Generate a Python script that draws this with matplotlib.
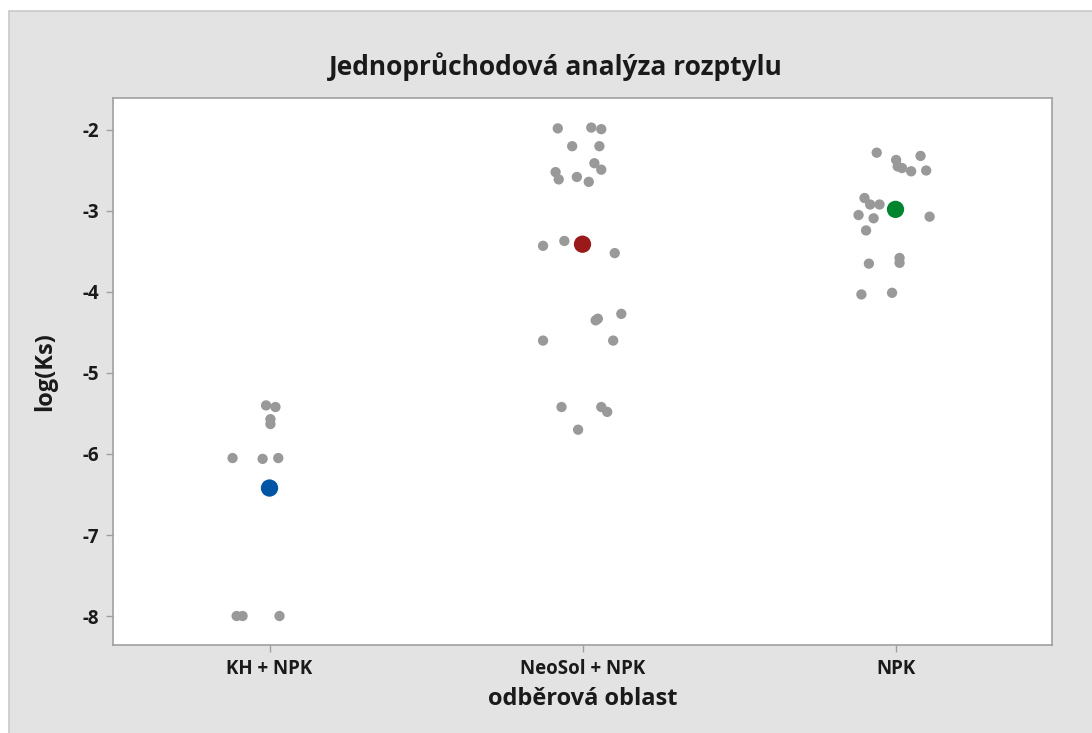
import matplotlib
matplotlib.use("Agg")
import matplotlib.pyplot as plt
from matplotlib.patches import Rectangle

plt.rcParams['font.family'] = ['Open Sans', 'DejaVu Sans']

categories = ["KH + NPK", "NeoSol + NPK", "NPK"]

# individual observations, log(Ks)
kh_values = [-5.40, -5.42, -5.57, -5.63, -6.05, -6.06, -6.05, -8.00, -8.00, -8.00]
neosol_values = [-1.98, -1.97, -1.99, -2.20, -2.20, -2.41, -2.49, -2.52, -2.61, -2.58, -2.64,
                 -3.43, -3.37, -3.52,
                 -4.33, -4.35, -4.27, -4.60, -4.60,
                 -5.42, -5.42, -5.48, -5.70]
npk_values = [-2.28, -2.32, -2.37, -2.45, -2.47, -2.51, -2.50,
              -2.84, -2.92, -2.92, -3.05, -3.09, -3.07, -3.24,
              -3.65, -3.58, -3.64, -4.03, -4.01]

# horizontal jitter of each observation (category units)
kh_jitter = [-0.011, 0.019, 0.003, 0.003, -0.118, -0.022, 0.028, -0.105, -0.086, 0.032]
neosol_jitter = [-0.079, 0.028, 0.060, -0.033, 0.054, 0.038, 0.060, -0.086, -0.076, -0.018, 0.020,
                 -0.126, -0.058, 0.103,
                 0.049, 0.042, 0.124, -0.126, 0.098,
                 -0.067, 0.060, 0.079, -0.014]
npk_jitter = [-0.060, 0.080, 0.002, 0.007, 0.021, 0.050, 0.098,
              -0.099, -0.081, -0.051, -0.118, -0.070, 0.109, -0.094,
              -0.085, 0.013, 0.013, -0.109, -0.011]

group_means = [-6.42, -3.41, -2.98]
mean_colors = ["#0055a5", "#9a1a1a", "#00852e"]

y_ticks = [-2, -3, -4, -5, -6, -7, -8]

fig = plt.figure(figsize=(10.92, 7.33), dpi=100, facecolor="white")
fig.patches.append(Rectangle((9 / 1092, -0.01), 1.02, (722 / 733) + 0.01,
                             transform=fig.transFigure, facecolor="#e3e3e3",
                             edgecolor="#c8c8c8", linewidth=1.2, zorder=-10))

ax = fig.add_axes([113 / 1092, (733 - 645) / 733, 939 / 1092, 547 / 733])
ax.set_zorder(5)
ax.set_facecolor("white")

groups = [(kh_values, kh_jitter), (neosol_values, neosol_jitter), (npk_values, npk_jitter)]
for i, (vals, jit) in enumerate(groups):
    xs = [i + j for j in jit]
    ax.scatter(xs, vals, s=55, color="#999999", edgecolors="none", zorder=3)

ax.scatter(range(len(categories)), group_means, s=155, c=mean_colors,
           edgecolors="none", zorder=4)

ax.set_xlim(-0.5, 2.5)
ax.set_ylim(-8.358, -1.605)
ax.set_xticks(range(len(categories)))
ax.set_xticklabels(categories)
ax.set_yticks(y_ticks)
ax.set_yticklabels([str(t) for t in y_ticks])

for sp in ax.spines.values():
    sp.set_color("#a0a0a0")
    sp.set_linewidth(1.2)

ax.tick_params(axis="both", direction="out", length=5, width=1, color="#a0a0a0",
               labelsize=13.5, labelcolor="#1a1a1a", pad=5)
for lbl in ax.get_xticklabels() + ax.get_yticklabels():
    lbl.set_fontweight("bold")

ax.set_xlabel("odběrová oblast", fontsize=17, fontweight="bold", color="#1a1a1a", labelpad=6)
ax.set_ylabel("log(Ks)", fontsize=17, fontweight="bold", color="#1a1a1a", labelpad=18)

fig.text(556 / 1092, 1 - 67 / 733, "Jednoprůchodová analýza rozptylu", ha="center", va="center",
         fontsize=19, fontweight="bold", color="#1a1a1a", zorder=6)

fig.savefig("out.png", dpi=100, facecolor=fig.get_facecolor())
